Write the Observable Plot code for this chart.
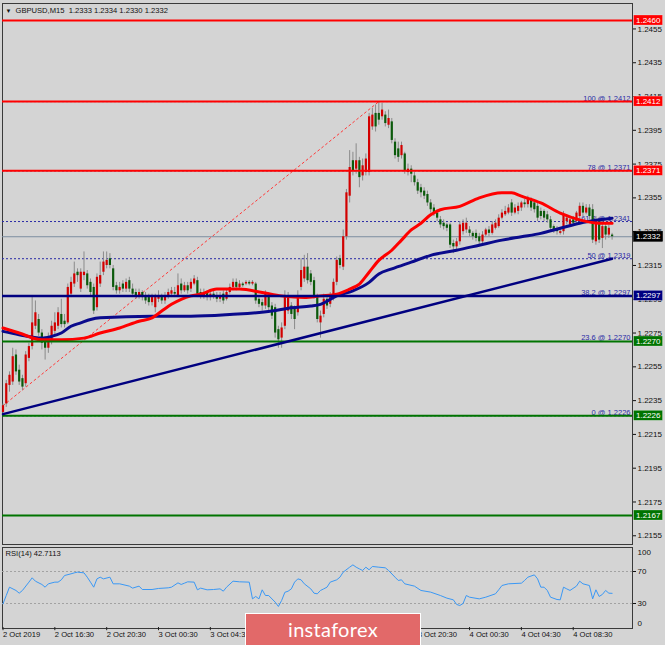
<!DOCTYPE html>
<html><head><meta charset="utf-8">
<script src="https://cdn.jsdelivr.net/npm/d3@7"></script>
<script src="https://cdn.jsdelivr.net/npm/@observablehq/plot@0.6"></script>
<style>
html,body{margin:0;padding:0;background:#d4d4d4;}
#wrap{position:relative;width:665px;height:645px;overflow:hidden;background:#d4d4d4;font-family:"Liberation Sans",Arial,sans-serif;}
#main,#rsi{position:absolute;left:0;}
#main{top:0}
#rsi{top:540px}
#wm{position:absolute;left:245px;top:613px;width:176px;height:34px;background:#e26969;border:1px solid #fff;box-sizing:border-box;color:#fff;font:20px Lato,"Open Sans",sans-serif;letter-spacing:0.3px;text-align:center;line-height:31px;}
</style></head><body><div id="wrap"><div id="main"></div><div id="rsi"></div><div id="wm">instaforex</div></div>
<script>
// ---- OHLC of GBPUSD M15 (bar 0 = 2 Oct 12:30) ----
const opens = [
1.2228,1.2233,1.2244,1.2246,1.2262,1.2253,1.2248,1.2245,1.2260,1.2267,
1.2279,1.2283,1.2275,1.2271,1.2266,1.2271,1.2276,1.2279,1.2286,1.2282,
1.2281,1.2298,1.2304,1.2311,1.2301,1.2309,1.2310,1.2305,1.2302,1.2290,
1.2304,1.2311,1.2315,1.2319,1.2313,1.2303,1.2300,1.2304,1.2301,1.2306,
1.2301,1.2299,1.2297,1.2299,1.2297,1.2296,1.2293,1.2290,1.2295,1.2296,
1.2294,1.2297,1.2298,1.2299,1.2297,1.2304,1.2300,1.2303,1.2301,1.2304,
1.2306,1.2299,1.2297,1.2299,1.2296,1.2298,1.2297,1.2295,1.2298,1.2295,
1.2299,1.2302,1.2305,1.2302,1.2304,1.2304,1.2305,1.2304,1.2304,1.2295,
1.2293,1.2291,1.2297,1.2291,1.2290,1.2277,1.2272,1.2279,1.2288,1.2291,
1.2289,1.2287,1.2302,1.2307,1.2314,1.2310,1.2306,1.2296,1.2281,1.2286,
1.2295,1.2292,1.2296,1.2305,1.2319,1.2314,1.2332,1.2356,1.2377,1.2372,
1.2377,1.2368,1.2370,1.2370,1.2397,1.2405,1.2405,1.2403,1.2404,1.2398,
1.2400,1.2388,1.2384,1.2380,1.2381,1.2370,1.2372,1.2368,1.2364,1.2361,
1.2359,1.2357,1.2352,1.2349,1.2346,1.2342,1.2340,1.2339,1.2339,1.2328,
1.2326,1.2329,1.2335,1.2336,1.2336,1.2334,1.2334,1.2332,1.2329,1.2333,
1.2336,1.2334,1.2337,1.2338,1.2343,1.2345,1.2346,1.2352,1.2346,1.2347,
1.2349,1.2352,1.2351,1.2354,1.2352,1.2350,1.2347,1.2347,1.2345,1.2342,
1.2338,1.2336,1.2334,1.2335,1.2341,1.2339,1.2342,1.2341,1.2344,1.2350,
1.2346,1.2349,1.2348,1.2329,1.2341,1.2331,1.2338,1.2333,1.2333];
const highs = [
1.2233,1.2247,1.2252,1.2266,1.2265,1.2256,1.2250,1.2264,1.2269,1.2296,
1.2294,1.2286,1.2277,1.2273,1.2275,1.2282,1.2287,1.2290,1.2295,1.2286,
1.2304,1.2308,1.2317,1.2313,1.2313,1.2323,1.2312,1.2307,1.2304,1.2310,
1.2317,1.2323,1.2323,1.2322,1.2315,1.2305,1.2305,1.2306,1.2307,1.2308,
1.2304,1.2301,1.2301,1.2300,1.2299,1.2298,1.2298,1.2298,1.2300,1.2298,
1.2299,1.2301,1.2302,1.2302,1.2310,1.2307,1.2305,1.2305,1.2307,1.2309,
1.2308,1.2301,1.2301,1.2300,1.2300,1.2300,1.2299,1.2299,1.2300,1.2301,
1.2304,1.2307,1.2307,1.2306,1.2305,1.2306,1.2306,1.2306,1.2305,1.2297,
1.2295,1.2300,1.2299,1.2293,1.2292,1.2279,1.2281,1.2300,1.2299,1.2293,
1.2291,1.2300,1.2319,1.2321,1.2322,1.2312,1.2308,1.2298,1.2288,1.2298,
1.2297,1.2299,1.2307,1.2320,1.2321,1.2336,1.2360,1.2383,1.2382,1.2387,
1.2379,1.2378,1.2381,1.2405,1.2408,1.2410,1.2412,1.2411,1.2406,1.2407,
1.2402,1.2390,1.2388,1.2388,1.2382,1.2375,1.2374,1.2370,1.2366,1.2363,
1.2361,1.2359,1.2354,1.2351,1.2348,1.2344,1.2342,1.2340,1.2340,1.2330,
1.2331,1.2341,1.2342,1.2343,1.2338,1.2335,1.2336,1.2334,1.2335,1.2337,
1.2338,1.2341,1.2342,1.2345,1.2348,1.2350,1.2351,1.2354,1.2351,1.2352,
1.2353,1.2354,1.2356,1.2355,1.2354,1.2352,1.2349,1.2348,1.2347,1.2344,
1.2339,1.2338,1.2337,1.2347,1.2345,1.2344,1.2344,1.2347,1.2352,1.2352,
1.2351,1.2351,1.2351,1.2344,1.2343,1.2341,1.2340,1.2339,1.2334];
const lows = [
1.2226,1.2231,1.2240,1.2244,1.2250,1.2244,1.2241,1.2243,1.2258,1.2265,
1.2277,1.2273,1.2265,1.2259,1.2263,1.2268,1.2274,1.2277,1.2278,1.2278,
1.2280,1.2296,1.2302,1.2305,1.2299,1.2306,1.2301,1.2297,1.2286,1.2288,
1.2302,1.2309,1.2313,1.2313,1.2300,1.2298,1.2298,1.2299,1.2299,1.2299,
1.2296,1.2295,1.2295,1.2294,1.2292,1.2291,1.2291,1.2287,1.2293,1.2292,
1.2292,1.2295,1.2296,1.2296,1.2296,1.2298,1.2299,1.2298,1.2299,1.2303,
1.2296,1.2295,1.2295,1.2294,1.2294,1.2295,1.2293,1.2293,1.2292,1.2294,
1.2298,1.2300,1.2300,1.2301,1.2302,1.2303,1.2303,1.2303,1.2292,1.2290,
1.2288,1.2289,1.2288,1.2283,1.2272,1.2266,1.2266,1.2277,1.2286,1.2283,
1.2277,1.2285,1.2300,1.2305,1.2304,1.2303,1.2295,1.2281,1.2272,1.2284,
1.2289,1.2290,1.2294,1.2303,1.2313,1.2312,1.2330,1.2352,1.2368,1.2369,
1.2361,1.2365,1.2368,1.2368,1.2395,1.2394,1.2398,1.2401,1.2397,1.2396,
1.2387,1.2378,1.2376,1.2378,1.2369,1.2368,1.2364,1.2362,1.2357,1.2355,
1.2354,1.2350,1.2346,1.2344,1.2341,1.2337,1.2336,1.2335,1.2325,1.2322,
1.2324,1.2327,1.2333,1.2334,1.2332,1.2330,1.2329,1.2327,1.2328,1.2332,
1.2332,1.2333,1.2336,1.2337,1.2342,1.2344,1.2345,1.2344,1.2345,1.2345,
1.2347,1.2349,1.2349,1.2347,1.2346,1.2341,1.2342,1.2341,1.2340,1.2335,
1.2334,1.2333,1.2333,1.2333,1.2339,1.2338,1.2338,1.2340,1.2342,1.2344,
1.2345,1.2342,1.2328,1.2327,1.2328,1.2325,1.2330,1.2331,1.2330];
const closes = [
1.2232,1.2245,1.2250,1.2261,1.2252,1.2246,1.2243,1.2262,1.2267,1.2281,
1.2287,1.2275,1.2269,1.2266,1.2272,1.2279,1.2281,1.2287,1.2280,1.2280,
1.2302,1.2305,1.2310,1.2309,1.2311,1.2311,1.2303,1.2299,1.2288,1.2308,
1.2309,1.2317,1.2318,1.2315,1.2302,1.2300,1.2302,1.2301,1.2305,1.2301,
1.2298,1.2297,1.2299,1.2296,1.2294,1.2293,1.2296,1.2296,1.2297,1.2294,
1.2297,1.2299,1.2300,1.2298,1.2303,1.2300,1.2303,1.2300,1.2305,1.2307,
1.2298,1.2297,1.2299,1.2296,1.2298,1.2297,1.2295,1.2297,1.2294,1.2299,
1.2302,1.2305,1.2302,1.2304,1.2303,1.2305,1.2304,1.2305,1.2294,1.2292,
1.2291,1.2298,1.2290,1.2285,1.2275,1.2271,1.2278,1.2297,1.2296,1.2286,
1.2283,1.2297,1.2312,1.2314,1.2306,1.2305,1.2297,1.2283,1.2285,1.2295,
1.2291,1.2296,1.2305,1.2318,1.2315,1.2332,1.2358,1.2373,1.2371,1.2377,
1.2367,1.2374,1.2378,1.2403,1.2404,1.2397,1.2401,1.2407,1.2399,1.2402,
1.2389,1.2380,1.2379,1.2386,1.2371,1.2372,1.2369,1.2364,1.2359,1.2358,
1.2356,1.2352,1.2348,1.2346,1.2343,1.2339,1.2338,1.2337,1.2327,1.2326,
1.2329,1.2339,1.2340,1.2340,1.2334,1.2332,1.2331,1.2329,1.2333,1.2336,
1.2334,1.2339,1.2340,1.2343,1.2346,1.2347,1.2349,1.2346,1.2349,1.2350,
1.2352,1.2351,1.2354,1.2349,1.2348,1.2343,1.2344,1.2343,1.2342,1.2337,
1.2336,1.2335,1.2335,1.2345,1.2343,1.2342,1.2340,1.2346,1.2350,1.2346,
1.2349,1.2344,1.2330,1.2342,1.2330,1.2338,1.2333,1.2337,1.2332];

// ---- moving averages (read at sample bars) ----
const redMABars = [0,5,12,18,25,30,36,42,46,49,52,55,58,61,66,73,80,86,93,98,103,107,110,113,116,120,123,126,129,132,135,141,147,154,157,160,166,172,178,184,188];
const redMAValues = [1.2278,1.2275,1.2271,1.2271,1.2272,1.2275,1.2278,1.2282,1.2284,1.2288,1.2292,1.2295,1.2297,1.2298,1.2301,1.2301,1.2299,1.2297,1.2296,1.2297,1.2298,1.2301,1.2304,1.2311,1.2318,1.2324,1.2330,1.2336,1.2340,1.2345,1.2348,1.2350,1.2355,1.2358,1.2358,1.2356,1.2352,1.2346,1.2342,1.2340,1.2340];
const navyMABars = [0,5,12,15,18,21,24,27,30,46,58,70,83,89,95,98,103,108,113,116,120,126,132,140,147,154,160,166,172,178,184,188];
const navyMAValues = [1.2276,1.2274,1.2272,1.2273,1.2275,1.2279,1.2281,1.2283,1.2284,1.2285,1.2285,1.2286,1.2288,1.2290,1.2291,1.2292,1.2297,1.2300,1.2305,1.2310,1.2313,1.2317,1.2321,1.2324,1.2327,1.2330,1.2332,1.2334,1.2337,1.2340,1.2342,1.2343];

// ---- drawn objects ----
const trendBars = [0,188];
const trendPrices = [1.2227,1.2319];
const fibLineBars = [0,116];
const fibLinePrices = [1.2232,1.2412];
const fibPercents = ["100","78","61.8","50","38.2","23.6","0"];
const fibPrices = [1.2412,1.2371,1.2341,1.2319,1.2297,1.2270,1.2226];
const redLevels = [1.2460,1.2412,1.2371];
const navyLevels = [1.2297];
const greenLevels = [1.2270,1.2226,1.2167];
const lastPrice = 1.2332;
const tagPrices = [1.2460,1.2412,1.2371,1.2332,1.2297,1.2270,1.2226,1.2167];
const tagKinds  = ["red","red","red","last","navy","green","green","green"];

// ---- axes ----
const priceTicks = [1.2155,1.2175,1.2195,1.2215,1.2235,1.2255,1.2275,1.2295,1.2315,1.2335,1.2355,1.2375,1.2395,1.2415,1.2435,1.2455];
const timeTickBars = [0,16,32,48,64,80,96,112,128,144,160,176];
const timeTickLabels = ["2 Oct 2019","2 Oct 16:30","2 Oct 20:30","3 Oct 00:30","3 Oct 04:30","3 Oct 08:30","3 Oct 12:30","3 Oct 16:30","3 Oct 20:30","4 Oct 00:30","4 Oct 04:30","4 Oct 08:30"];
const header = "GBPUSD,M15  1.2333 1.2334 1.2330 1.2332";

// ---- RSI(14) ----
const rsiBars = [0,1,2,4,5,6,8,9,10,12,13,14,16,17,18,19,21,22,23,25,26,27,28,29,30,31,33,34,36,39,40,42,43,46,48,51,52,54,55,56,57,59,60,61,63,65,67,68,69,71,73,76,77,78,79,80,81,82,84,85,86,87,88,89,90,91,92,93,95,96,97,98,99,100,101,103,104,105,107,108,109,110,111,112,113,114,116,118,119,121,122,123,124,127,129,132,135,137,139,140,141,142,143,144,147,149,152,153,154,156,160,161,162,164,165,166,167,168,169,171,172,173,174,175,177,178,179,181,182,183,184,185,186,187,188];
const rsiValues = [29.6,40,50.4,46.3,42.9,46.3,56.7,62.1,57.9,53.8,50.4,54.6,56.7,56.7,59.6,65,67.1,68.3,69.2,68.3,62.9,56.7,50.4,60.8,62.9,60.8,62.9,54.6,54.6,51.7,49.2,51.7,47.5,47.5,48.8,49.6,50.4,55.8,53.8,55.4,57.1,56.7,47.1,49.2,47.1,47.5,48.3,45.4,50.4,57.9,57.1,56.7,35.8,38.8,35.8,47.1,40,40,31.7,26.3,33.8,44,45.4,48.3,56.7,60.8,59.6,54.6,48.3,42.9,42.1,46.3,48.3,50.4,56.7,59.6,62.9,69.2,75.4,78.3,75.4,73.3,71.3,75.4,72.1,76.3,75.4,74.6,71.3,62.9,58.8,59.6,54.6,51.7,46.3,44.2,40,36.7,34.6,28.8,27.5,30,40,37.9,35.8,37.9,42.1,47.1,52.5,54.6,55.4,58.8,62.9,65.8,60.8,50.4,50.4,46.3,37.9,35,34.6,50.4,48.3,46.3,51.7,57.9,54.6,52.5,35.8,47.1,38.8,41.3,46.3,42.9,42.7113];
const rsiLevels = [30,70];
const rsiLabel = "RSI(14) 42.7113";

// ---- build tables ----
const candles = opens.map((o,i)=>({i, open:o, high:highs[i], low:lows[i], close:closes[i]}));
const bulls = candles.filter(d=>d.close>=d.open);
const bears = candles.filter(d=>d.close<d.open);
const redMA = redMABars.map((b,k)=>({b, v:redMAValues[k]}));
const navyMA = navyMABars.map((b,k)=>({b, v:navyMAValues[k]}));
const trend = trendBars.map((b,k)=>({b, v:trendPrices[k]}));
const fibLine = fibLineBars.map((b,k)=>({b, v:fibLinePrices[k]}));
const fibs = fibPrices.map((p,k)=>({p, t:`${fibPercents[k]} @ ${p.toFixed(4)}`}));
const rsi = rsiBars.map((b,k)=>({b, v:rsiValues[k]}));
const timeTicks = timeTickBars.map((b,k)=>({b, t:timeTickLabels[k]}));

const FONT = "'Liberation Sans', Arial, sans-serif";
const xScale = {domain:[0,188], range:[2.5,611.6], axis:null};
const FIB = "#2a2aa6", NAVY = "#000080", GREEN = "#007400", RED = "#ff0000";

const main = Plot.plot({
  width:665, height:545, marginLeft:2, marginRight:33, marginTop:3, marginBottom:1,
  style:{background:"transparent", fontFamily:FONT, overflow:"visible"},
  x: xScale,
  y: {domain:[1.2167,1.2460], range:[515,20], axis:null},
  marks:[
    Plot.frame({stroke:"#3a3a3a"}),
    Plot.ruleY(fibs, {y:"p", stroke:FIB, strokeWidth:1, strokeDasharray:"2,2"}),
    Plot.text(fibs, {y:"p", text:"t", frameAnchor:"right", textAnchor:"end", lineAnchor:"bottom", dx:-2, dy:-1, fill:FIB, fontSize:7.5}),
    Plot.line(fibLine, {x:"b", y:"v", stroke:"#ff3a3a", strokeWidth:1, strokeDasharray:"2,3"}),
    Plot.ruleY([lastPrice], {stroke:"#7d8ea0", strokeWidth:1}),
    Plot.ruleX(candles, {x:"i", y1:"low", y2:"high", stroke:"#8a8a8a", strokeWidth:1}),
    Plot.ruleX(bulls, {x:"i", y1:"open", y2:"close", stroke:"#d20000", strokeWidth:2.2}),
    Plot.ruleX(bears, {x:"i", y1:"open", y2:"close", stroke:"#0b5a0b", strokeWidth:2.2}),
    Plot.line(navyMA, {x:"b", y:"v", stroke:"#0a0a8c", strokeWidth:3, curve:"monotone-x"}),
    Plot.line(redMA, {x:"b", y:"v", stroke:RED, strokeWidth:3, curve:"monotone-x"}),
    Plot.ruleY(redLevels, {stroke:RED, strokeWidth:2}),
    Plot.ruleY(navyLevels, {stroke:NAVY, strokeWidth:2.5}),
    Plot.ruleY(greenLevels, {stroke:GREEN, strokeWidth:2}),
    Plot.line(trend, {x:"b", y:"v", stroke:NAVY, strokeWidth:2.5}),
    Plot.text(["\u25BC"], {frameAnchor:"top-left", dx:3, dy:5, lineAnchor:"top", fontSize:6, fill:"#111"}),
    Plot.text([header], {frameAnchor:"top-left", dx:13, dy:4, lineAnchor:"top", fontSize:7.6, fill:"#111"}),
    Plot.axisY(priceTicks, {anchor:"right", tickSize:3, tickPadding:2, tickFormat:d=>d.toFixed(4), fontSize:8, color:"#111", label:null})
  ]
});
document.getElementById("main").appendChild(main);

// price tags on the right axis, placed with Plot's y scale
const ys = main.scale("y");
const tagColors = {red:"#ff0000", last:"#000000", navy:"#000080", green:"#007400"};
const g = d3.select(main).append("g").attr("font-family", FONT).attr("font-size", 8).attr("text-anchor","start");
tagPrices.forEach((p,k)=>{
  const y = ys.apply(p);
  g.append("rect").attr("x",633.5).attr("y",y-5).attr("width",29).attr("height",10)
    .attr("fill",tagColors[tagKinds[k]]).attr("stroke", tagKinds[k]==="last" ? "#000" : "#ffffff66").attr("stroke-width",0.6);
  g.append("text").attr("x",636).attr("y",y+3).attr("text-anchor","start").attr("fill","#fff").text(p.toFixed(4));
});

const rsiPlot = Plot.plot({
  width:665, height:105, marginLeft:2, marginRight:33, marginTop:7, marginBottom:17,
  style:{background:"transparent", fontFamily:FONT, overflow:"visible"},
  x: xScale,
  y: {domain:[0,100], range:[87,7], axis:null},
  marks:[
    Plot.frame({stroke:"#3a3a3a"}),
    Plot.ruleY(rsiLevels, {stroke:"#a2a2a2", strokeDasharray:"2,2"}),
    Plot.line(rsi, {x:"b", y:"v", stroke:"#3a98f5", strokeWidth:1}),
    Plot.text([rsiLabel], {frameAnchor:"top-left", dx:3, dy:3, lineAnchor:"top", fontSize:7.6, fill:"#111"}),
    Plot.axisY([30,70], {anchor:"right", tickSize:3, tickPadding:2, fontSize:8, color:"#111", label:null}),
    Plot.axisY([100], {anchor:"right", tickSize:0, tickPadding:5, fontSize:8, color:"#111", label:null, dy:5}),
    Plot.axisY([0], {anchor:"right", tickSize:0, tickPadding:5, fontSize:8, color:"#111", label:null, dy:-4}),
    Plot.ruleX(timeTicks, {x:"b", y1:0, y2:-4, stroke:"#222"}),
    Plot.text(timeTicks, {x:"b", text:"t", frameAnchor:"bottom", lineAnchor:"top", textAnchor:"start", dy:3, dx:0, fontSize:7.6, fill:"#111"})
  ]
});
document.getElementById("rsi").appendChild(rsiPlot);
</script>
</body></html>
